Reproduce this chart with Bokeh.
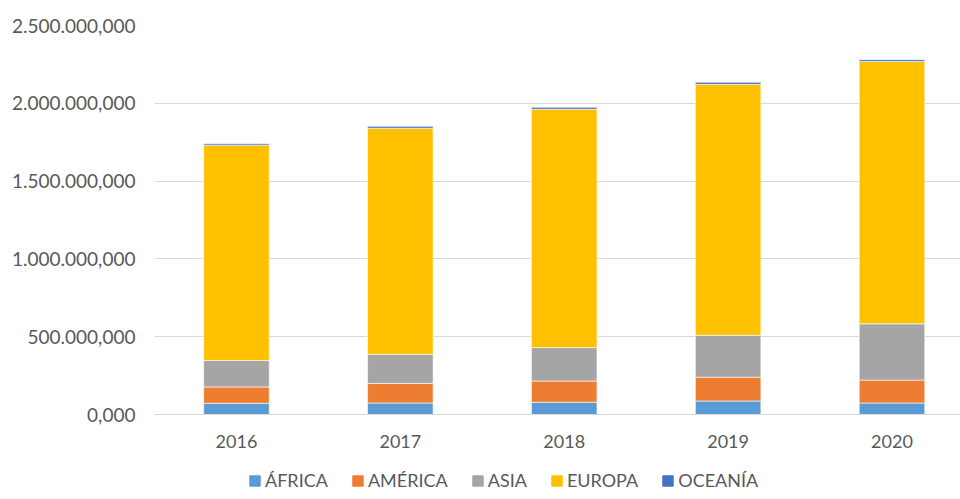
from bokeh.plotting import figure
from bokeh.layouts import column
from bokeh.models import (ColumnDataSource, Legend, LegendItem, CustomJSTickFormatter,
                          FixedTicker, Range1d)
from bokeh.embed import file_html
from bokeh.resources import INLINE

years = ["2016", "2017", "2018", "2019", "2020"]
africa = [72000, 74000, 79000, 87000, 74000]
america = [105000, 126000, 136000, 153000, 147000]
asia = [170000, 187000, 215000, 269000, 362000]
europa = [1384000, 1453000, 1532000, 1613000, 1685000]
oceania = [9000, 12000, 12000, 13000, 12000]
series = ["ÁFRICA", "AMÉRICA", "ASIA", "EUROPA", "OCEANÍA"]
colors = ["#5B9BD5", "#ED7D31", "#A5A5A5", "#FFC000", "#4472C4"]
y_ticks = [0, 500000, 1000000, 1500000, 2000000, 2500000]

FONT = "Lato"
TXT = "#595959"

# category slots: each year occupies one unit, bar at slot centre
xpos = [i + 0.5 for i in range(len(years))]
src = ColumnDataSource(dict(x=xpos, year=years, a=africa, b=america, c=asia, d=europa, e=oceania))

p = figure(width=960, height=464, output_backend="svg",
           toolbar_location=None, min_border_left=154, min_border_right=0,
           min_border_top=25, min_border_bottom=50)
p.y_range = Range1d(0, 2.5e6)
p.x_range = Range1d(0, 4.918)  # right part of the chart runs past the window edge

rs = p.vbar_stack(["a", "b", "c", "d", "e"], x="x", width=0.40, source=src,
                  color=colors, line_color="white", line_width=0.6)

p.outline_line_color = None
p.xgrid.grid_line_color = None
p.ygrid.grid_line_color = "#d9d9d9"
p.ygrid.grid_line_width = 1

p.yaxis.ticker = FixedTicker(ticks=y_ticks)
p.yaxis.formatter = CustomJSTickFormatter(code="""
    return Math.round(tick).toString().replace(/\\B(?=(\\d{3})+(?!\\d))/g, '.') + ',000';
""")
p.yaxis.axis_line_color = None
p.yaxis.major_tick_line_color = None
p.yaxis.minor_tick_line_color = None
p.yaxis.major_label_standoff = 13

p.xaxis.ticker = FixedTicker(ticks=xpos)
p.xaxis.major_label_overrides = {x: y for x, y in zip(xpos, years)}
p.xaxis.axis_line_color = "#d9d9d9"
p.xaxis.axis_line_width = 1
p.xaxis.major_tick_line_color = None
p.xaxis.minor_tick_line_color = None
p.xaxis.major_label_standoff = 14

p.xaxis.major_label_text_font_size = "18px"
p.yaxis.major_label_text_font_size = "19px"
for ax in (p.xaxis, p.yaxis):
    ax.major_label_text_font = FONT
    ax.major_label_text_color = TXT

# legend strip below the chart (its frame gets aligned with the chart's frame)
lg = figure(width=960, height=27, output_backend="svg", toolbar_location=None,
            x_axis_type=None, y_axis_type=None, x_range=Range1d(0, 1), y_range=Range1d(0, 1),
            min_border_left=0, min_border_right=0, min_border_top=0, min_border_bottom=0)
lg.outline_line_color = None
dummy = [lg.vbar(x=[5], top=[1], width=0.5, color=c) for c in colors]
legend = Legend(items=[LegendItem(label=s, renderers=[r]) for s, r in zip(series, dummy)],
                orientation="horizontal", location=(94, 0))
legend.label_text_font = FONT
legend.label_text_font_size = "18px"
legend.label_text_color = TXT
legend.glyph_width = 13
legend.glyph_height = 13
legend.label_standoff = 4
legend.spacing = 23
legend.padding = 0
legend.margin = 0
legend.border_line_color = None
legend.background_fill_alpha = 0
lg.add_layout(legend, "center")

layout = column(p, lg, spacing=0)
open("out.html", "w").write(file_html(layout, INLINE))
